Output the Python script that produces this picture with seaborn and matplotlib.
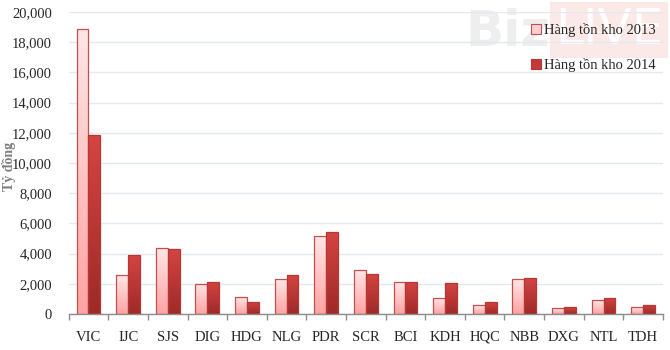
import numpy as np
import pandas as pd
import matplotlib
matplotlib.use("Agg")
import matplotlib.pyplot as plt
import seaborn as sns
from matplotlib.colors import LinearSegmentedColormap
from matplotlib.patches import Rectangle, Patch

categories = ["VIC", "IJC", "SJS", "DIG", "HDG", "NLG", "PDR", "SCR", "BCI",
              "KDH", "HQC", "NBB", "DXG", "NTL", "TDH"]
inv_2013 = [18900, 2580, 4370, 2000, 1100, 2300, 5140, 2900, 2100,
            1040, 580, 2300, 380, 900, 440]
inv_2014 = [11850, 3900, 4300, 2120, 800, 2580, 5430, 2650, 2100,
            2050, 800, 2360, 460, 1060, 600]
series_names = ["Hàng tồn kho 2013", "Hàng tồn kho 2014"]
y_ticks = [0, 2000, 4000, 6000, 8000, 10000, 12000, 14000, 16000, 18000, 20000]

df = pd.DataFrame({
    "cat": categories * 2,
    "value": inv_2013 + inv_2014,
    "series": [series_names[0]] * len(categories) + [series_names[1]] * len(categories),
})

sns.set_theme(style="white")
plt.rcParams["font.family"] = ["Liberation Serif", "DejaVu Serif"]

fig = plt.figure(figsize=(6.7, 3.5), dpi=100)
ax = fig.add_axes([0.1025, 0.1029, 0.887, 0.8628])

palette = {series_names[0]: "#FFC4C4", series_names[1]: "#C43A38"}
sns.barplot(data=df, x="cat", y="value", hue="series", order=categories,
            hue_order=series_names, palette=palette, width=0.6, ax=ax,
            edgecolor="none", linewidth=0, legend=False, zorder=3)

# gradients on bars
cmap13 = LinearSegmentedColormap.from_list("c13", ["#FFA3A3", "#FFE6E6"])
cmap14 = LinearSegmentedColormap.from_list("c14", ["#9E2A28", "#D44442"])
grad = np.linspace(0, 1, 64).reshape(-1, 1)
n = len(categories)
patches = list(ax.patches)
for i, p in enumerate(patches):
    x0, y0 = p.get_x(), p.get_y()
    w, h = p.get_width(), p.get_height()
    first = i < n
    cm = cmap13 if first else cmap14
    im = ax.imshow(grad, cmap=cm, aspect="auto", origin="lower",
                   extent=[x0, x0 + w, y0, y0 + h], zorder=3.5)
    im.set_clip_path(p)
    edge = "#C0504D" if first else "#B83634"
    ax.add_patch(Rectangle((x0, y0), w, h, fill=False, edgecolor=edge,
                           linewidth=0.9, zorder=4))

ax.set_xlim(-0.5, n - 0.5)
ax.set_ylim(0, 20000)
ax.set_yticks(y_ticks)
ax.set_yticklabels([f"{v:,}" for v in y_ticks], fontsize=10.5)
ax.yaxis.grid(True, color="#E3E8F2", linewidth=1, zorder=0)
ax.set_axisbelow(True)
ax.tick_params(axis="y", length=0, pad=12)

ax.set_xticks(range(n))
ax.set_xticklabels(categories, fontsize=10.5)
ax.set_xticks(np.arange(-0.5, n, 1.0), minor=True)
ax.tick_params(axis="x", which="major", length=0, pad=12)
ax.tick_params(axis="x", which="minor", length=4, color="#8C8C8C", width=1,
               direction="out", bottom=True)
ax.set_xlabel("")
ax.set_ylabel("Tỷ đồng", fontsize=10, color="#7F7F7F", fontweight="bold")
ax.yaxis.set_label_coords(-0.089, 0.49)

for s in ["top", "right", "left"]:
    ax.spines[s].set_visible(False)
ax.spines["bottom"].set_color("#8C8C8C")
ax.spines["bottom"].set_linewidth(1)
ax.spines["bottom"].set_zorder(5)

# watermark (faint, behind everything in the axes)
ax.add_patch(Rectangle((550 / 670, 1 - 58 / 350), 118 / 670, 56 / 350,
                       transform=fig.transFigure, facecolor="#FBE9E7",
                       edgecolor="none", zorder=0.1, clip_on=False))
ax.text(508 / 670, 1 - 32 / 350, "Biz", fontsize=36, fontweight="bold",
        family="DejaVu Sans", color="#EEEEEE", ha="center", va="center",
        zorder=0.1, transform=fig.transFigure, clip_on=False)
ax.text(609 / 670, 1 - 30 / 350, "LIVE", fontsize=36, family="DejaVu Sans",
        color="#FFFFFF", ha="center", va="center", zorder=0.2,
        transform=fig.transFigure, clip_on=False)

# legend
handles = [Patch(facecolor="#FFCFCF", edgecolor="#C0504D", linewidth=0.8),
           Patch(facecolor="#C43A38", edgecolor="#B83634", linewidth=0.8)]
leg = ax.legend(handles, series_names, loc="upper left",
                bbox_to_anchor=(531 / 670, 1 - 23 / 350), bbox_transform=fig.transFigure,
                frameon=False, fontsize=10.5, handlelength=0.7, handleheight=0.7,
                handletextpad=0.2, labelspacing=1.45, borderaxespad=0, borderpad=0)
leg.set_zorder(10)

fig.savefig("out.png", dpi=100, facecolor="white")
